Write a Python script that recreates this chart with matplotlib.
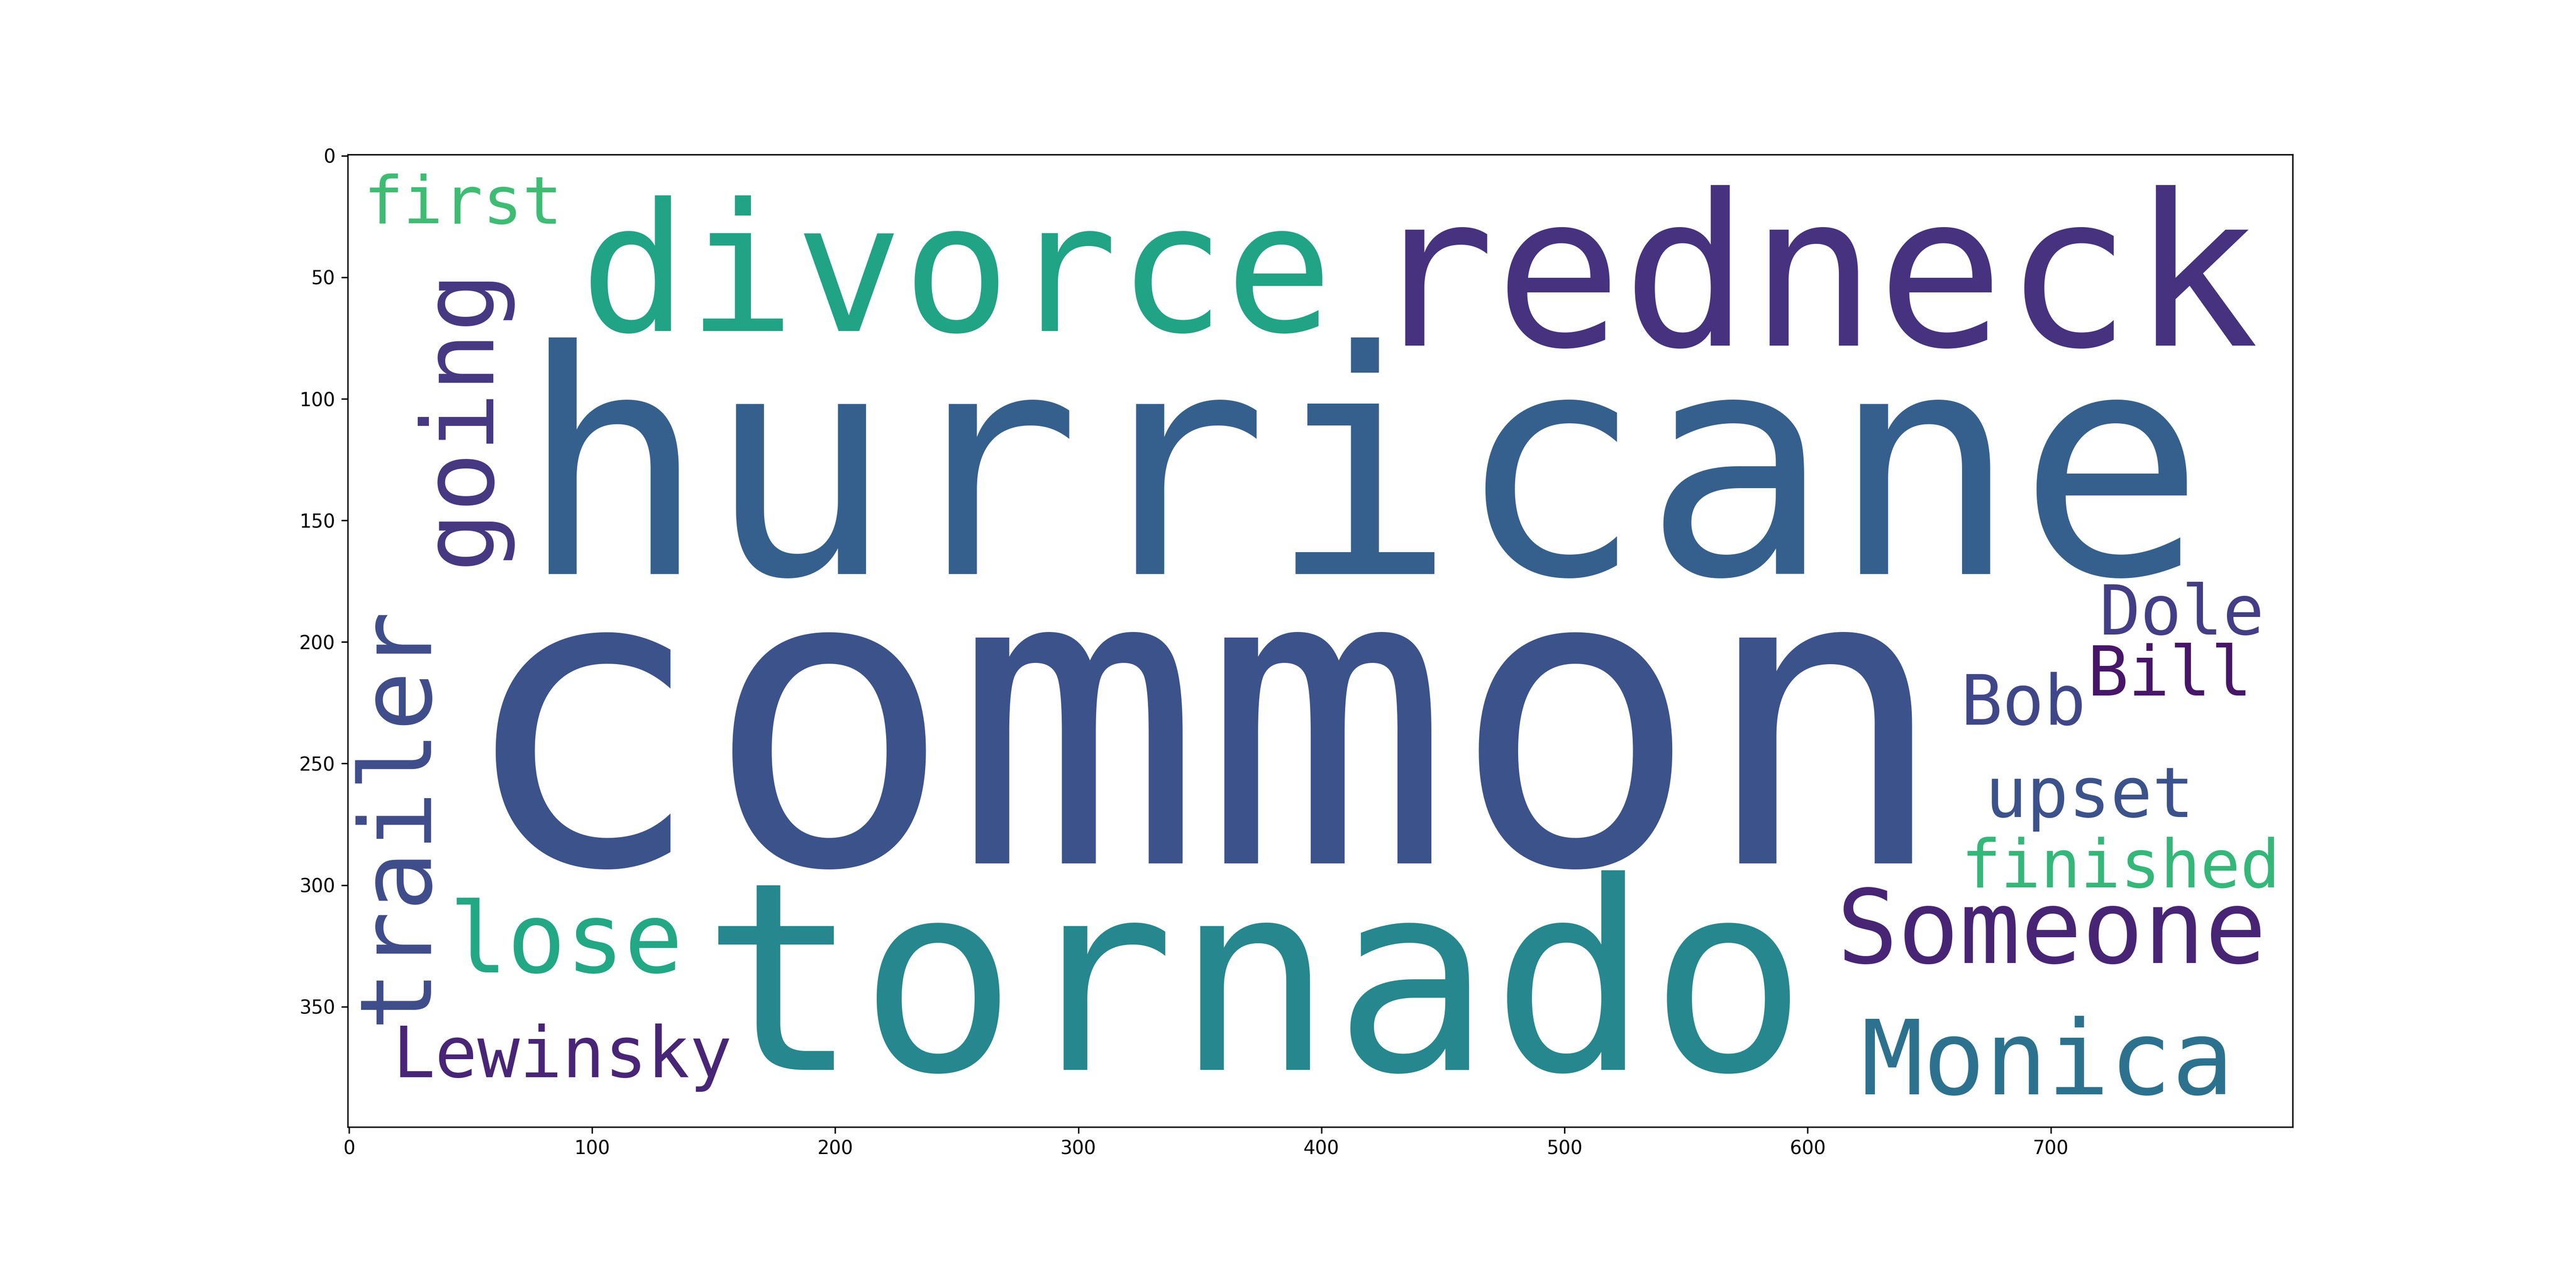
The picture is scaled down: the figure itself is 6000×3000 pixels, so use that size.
import matplotlib.pyplot as plt

# word cloud drawn on an 800x400 image grid
words = ["common", "hurricane", "redneck", "divorce", "tornado", "first", "going",
         "trailer", "lose", "Lewinsky", "Dole", "Bill", "Bob", "upset", "finished",
         "Someone", "Monica"]
sizes = [170, 128, 87, 73.5, 108, 27.2, 41, 41, 40, 29, 28.2, 28.2, 28.6, 28.6, 27.3, 42, 42.5]
xs = [44, 70, 419, 95, 145, 6, 46, 20, 41, 18, 720, 715, 663, 673, 663, 612, 622]
ys = [291, 172, 78, 72, 376, 28, 107, 271, 336, 379, 197, 222, 234, 272, 301, 332, 386]
rotations = [0, 0, 0, 0, 0, 0, 90, 90, 0, 0, 0, 0, 0, 0, 0, 0, 0]
colors = ["#3b528b", "#35608d", "#46327e", "#21a386", "#26878e", "#3fbc73", "#453781",
          "#3e4c8a", "#22a884", "#482576", "#433e85", "#481668", "#404788", "#3b528b",
          "#35b779", "#482475", "#2c728e"]

fig, ax = plt.subplots(figsize=(20, 10), dpi=300)
fig.subplots_adjust(left=0.135, right=0.89, top=0.88, bottom=0.125)
ax.set_xlim(-0.5, 799.5)
ax.set_ylim(399.5, -0.5)
ax.set_aspect('equal')
ax.set_xticks(range(0, 800, 100))
ax.set_yticks(range(0, 400, 50))
ax.tick_params(labelsize=10.5)

fig.canvas.draw()
bb = ax.get_window_extent()
pt_per_unit = bb.width / 800 * 72 / fig.dpi

for w, s, x, y, r, c in zip(words, sizes, xs, ys, rotations, colors):
    if r:
        ax.text(x, y, w, fontsize=s * pt_per_unit, color=c, rotation=90,
                ha='center', va='center', family='DejaVu Sans Mono')
    else:
        ax.text(x, y, w, fontsize=s * pt_per_unit, color=c,
                ha='left', va='baseline', family='DejaVu Sans Mono')

fig.savefig('out.png')
